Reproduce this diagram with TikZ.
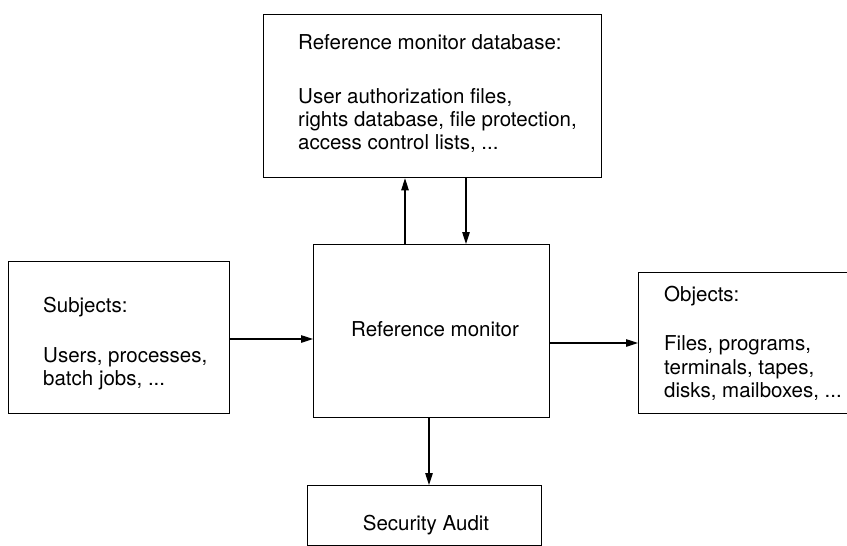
\documentclass[tikz,border=0pt]{standalone}
\usepackage{fontspec}
\setmainfont{TeX Gyre Heros}
\usetikzlibrary{arrows.meta}

\tikzset{
  box/.style={draw, line width=1.3pt, rectangle, inner sep=0pt, anchor=north west},
  txt/.style={anchor=base west, inner sep=0pt, font=\fontsize{20.5}{23}\selectfont},
  ctxt/.style={anchor=base, inner sep=0pt, font=\fontsize{20.5}{23}\selectfont},
  arr/.style={line width=1.1pt, -{Triangle[length=12pt,width=7.5pt]}}
}

% \boxat{name}{left}{top}{right}{bottom}
\newcommand{\boxat}[5]{\node[box, minimum width=#4-#2, minimum height=#5-#3] (#1) at (#2,#3) {};}

\begin{document}
\begin{tikzpicture}[x=1pt,y=-1pt]
  \useasboundingbox (0,0) rectangle (847,546);
  \clip (0,0) rectangle (847,546);

  % boxes
  \boxat{db}{263}{14}{601}{177}
  \boxat{sub}{8}{261}{229}{413}
  \boxat{rm}{313}{244}{549}{417}
  \boxat{obj}{638}{272}{870}{413}
  \boxat{aud}{307}{485}{541}{545}

  % reference monitor database
  \node[txt] (dbt)  at (298,49)  {Reference monitor database:};
  \node[txt] (dbl1) at (298,103) {User authorization files,};
  \node[txt] (dbl2) at (298,126) {rights database, file protection,};
  \node[txt] (dbl3) at (298,149) {access control lists, ...};

  % subjects
  \node[txt] (subt)  at (43,312) {Subjects:};
  \node[txt] (subl1) at (43,362) {Users, processes,};
  \node[txt] (subl2) at (43,385) {batch jobs, ...};

  % reference monitor
  \node[ctxt] (rmt) at (435,336) {Reference monitor};

  % objects
  \node[txt] (objt)  at (664,301) {Objects:};
  \node[txt] (objl1) at (664,350) {Files, programs,};
  \node[txt] (objl2) at (664,374) {terminals, tapes,};
  \node[txt] (objl3) at (664,397) {disks, mailboxes, ...};

  % security audit
  \node[ctxt] (audt) at (426,530) {Security Audit};

  % connectors
  \coordinate (upx) at (405,0);
  \coordinate (dnx) at (466,0);
  \coordinate (audx) at (429,0);
  \coordinate (suby) at (0,339);
  \coordinate (objy) at (0,343);
  \draw[arr] (upx |- rm.north) -- (upx |- db.south);
  \draw[arr] (dnx |- db.south) -- (dnx |- rm.north);
  \draw[arr] (sub.east |- suby) -- (rm.west |- suby);
  \draw[arr] (rm.east |- objy) -- (obj.west |- objy);
  \draw[arr] (audx |- rm.south) -- (audx |- aud.north);
\end{tikzpicture}
\end{document}
